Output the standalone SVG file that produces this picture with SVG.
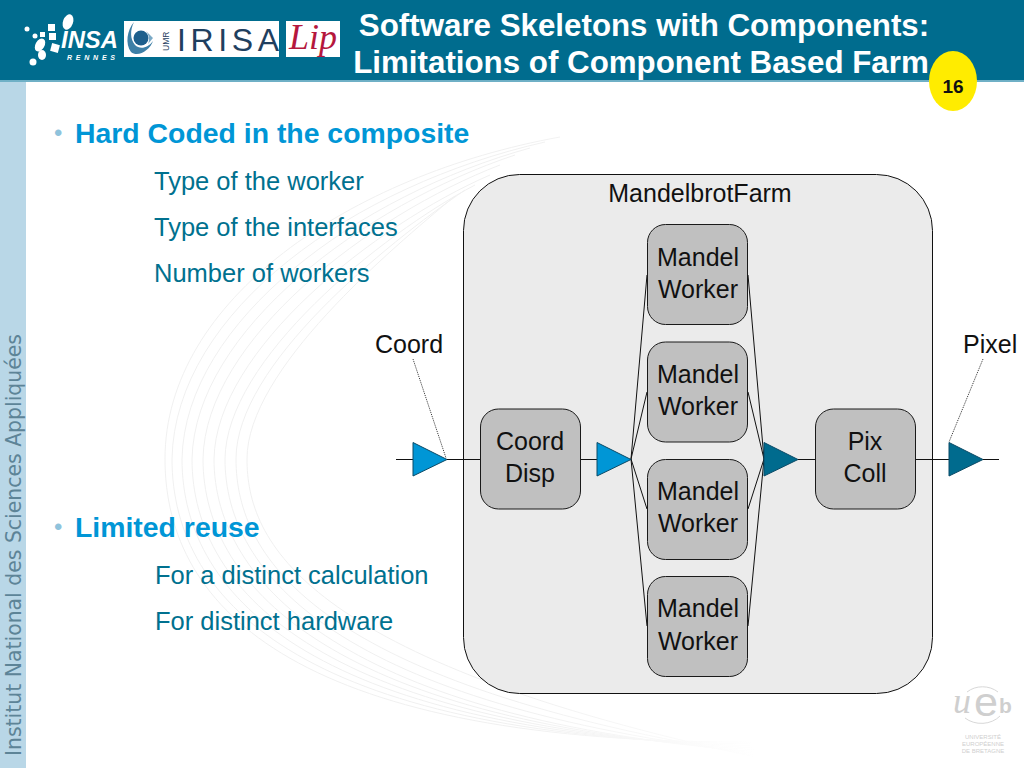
<svg xmlns="http://www.w3.org/2000/svg" width="1024" height="768" viewBox="0 0 1024 768">
<style>
text{font-family:"Liberation Sans",Arial,sans-serif}
.node{fill:#c0c0c0;stroke:#1a1a1a;stroke-width:1}
.nt{font-size:25px;fill:#111;text-anchor:middle}
.title{font-size:31.300px;font-weight:bold;fill:#fff;text-anchor:middle}
.h{font-size:28.400px;font-weight:bold;fill:#0096d6}
.b{font-size:25.500px;fill:#00718f}
.dot{font-size:24px;fill:#8fc3dc}
.lb{font-size:25px;fill:#111}
.c{fill:none;stroke:#111;stroke-width:1}
.lead{fill:none;stroke:#333;stroke-width:1;stroke-dasharray:1 1}
.tl{fill:#0096d6;stroke:#0b4a66;stroke-width:1}
.td{fill:#006b8e;stroke:#0b4a66;stroke-width:1}
.sw{fill:none;stroke:url(#swirl);stroke-width:1}
</style>
<defs>
<linearGradient id="swirl" gradientUnits="userSpaceOnUse" x1="160" y1="0" x2="760" y2="0">
<stop offset="0" stop-color="#f0f0f0"/><stop offset="0.6" stop-color="#f0f0f0"/><stop offset="1" stop-color="#ffffff"/>
</linearGradient>
</defs>
<rect width="1024" height="768" fill="#fff"/>
<g id="background">
<path class="sw" d="M560 137C350 175 165 300 165 459C165 610 300 745 760 742"/>
<path class="sw" d="M545 142C355 185 175 310 172 459C172 605 310 740 760 744"/>
<path class="sw" d="M530 148C360 195 185 320 182 459C182 600 320 735 760 746"/>
<path class="sw" d="M515 155C365 205 195 330 192 459C192 595 330 730 760 748"/>
<path class="sw" d="M500 165C370 215 205 340 203 459C203 590 340 725 760 750"/>
<path class="sw" d="M490 175C375 225 216 350 214 459C214 585 350 720 760 752"/>
<path class="sw" d="M475 185C380 235 226 360 225 459C225 575 340 705 760 754"/>
<path class="sw" d="M465 190C385 245 236 365 236 459C236 560 320 685 760 756"/>
<path class="sw" d="M455 196C390 250 247 370 247 459C247 540 300 660 760 758"/>
</g>
<g id="sidebar">
<rect x="0" y="80" width="26" height="688" fill="#b9d7e7"/>
<text transform="translate(21,756) rotate(-90)" font-size="21" fill="#5d8497" textLength="422" lengthAdjust="spacingAndGlyphs" style="font-family:'DejaVu Sans',sans-serif">Institut National des Sciences Appliquées</text>
</g>
<g id="header">
<rect x="0" y="0" width="1024" height="80" fill="#006c8e"/>
<rect x="0" y="80" width="1024" height="2" fill="#6fb0c6"/>
<g fill="#fff">
<ellipse cx="68" cy="22" rx="5" ry="8" transform="rotate(20 68 22)"/>
<circle cx="27" cy="29" r="2.500"/><circle cx="35" cy="36" r="2.500"/>
<rect x="40" y="32" width="5" height="5"/><rect x="48" y="24" width="7" height="7"/>
<rect x="49" y="33" width="7" height="7"/>
<ellipse cx="40" cy="45" rx="4.500" ry="7" transform="rotate(30 40 45)"/>
<rect x="51" y="44" width="8" height="8" transform="rotate(15 55 48)"/>
<ellipse cx="42" cy="55" rx="4" ry="5"/><circle cx="33" cy="62" r="3.500"/>
</g>
<text x="61" y="48" font-size="23" font-weight="bold" font-style="italic" fill="#fff" textLength="57" lengthAdjust="spacingAndGlyphs">INSA</text>
<text x="67" y="60" font-size="7" font-weight="bold" font-style="italic" fill="#fff" textLength="48">RENNES</text>
<rect x="124" y="21" width="155" height="36" fill="#fff"/>
<path d="M134 22C127 30 125 44 131 52C138 58 150 50 153 41C148 48 140 50 135 45C130 39 130 30 134 22Z" fill="#3d7fa6"/>
<circle cx="141" cy="38" r="7.500" fill="#1d5f8c"/>
<path d="M146 31L153 38L148 44C150 40 149 35 146 31Z" fill="#7aa9c6"/>
<text transform="translate(169,51) rotate(-90)" font-size="8.500" fill="#1f3f5f">UMR</text>
<text x="177" y="51" font-size="32" fill="#1f3f5f" textLength="102" lengthAdjust="spacing">IRISA</text>
<rect x="286" y="21" width="54" height="36" fill="#fff"/>
<text x="289" y="49" font-size="36" font-style="italic" fill="#b5173d" textLength="48" lengthAdjust="spacingAndGlyphs" style="font-family:'Liberation Serif',serif">Lip</text>
<text class="title" x="644" y="36">Software Skeletons with Components:</text>
<text class="title" x="641" y="73">Limitations of Component Based Farm</text>
</g>
<g id="page-number">
<ellipse cx="953" cy="81" rx="24" ry="30" fill="#ffec00"/>
<text x="953" y="93" font-size="19" font-weight="bold" fill="#111" text-anchor="middle">16</text>
</g>
<g id="ueb-logo" fill="#cfcfcf">
<path d="M967 692A24 22 0 0 1 998 692M1000 716A24 20 0 0 1 965 718" fill="none" stroke="#d8d8d8" stroke-width="1"/>
<text x="953" y="713" font-size="36" font-style="italic" style="font-family:'Liberation Serif',serif">u</text>
<text x="974" y="716" font-size="40" style="font-family:'Liberation Sans',sans-serif" textLength="24" lengthAdjust="spacingAndGlyphs">e</text>
<text x="999" y="713" font-size="21" font-weight="bold">b</text>
<g font-size="6" text-anchor="middle"><text x="983" y="739">UNIVERSITÉ</text><text x="983" y="746">EUROPÉENNE</text><text x="983" y="753">DE BRETAGNE</text></g>
</g>
<g id="text-left">
<text class="dot" x="54" y="141">•</text>
<text class="h" x="75" y="143">Hard Coded in the composite</text>
<text class="b" x="154" y="190">Type of the worker</text>
<text class="b" x="154" y="236">Type of the interfaces</text>
<text class="b" x="154" y="282">Number of workers</text>
<text class="dot" x="54" y="535">•</text>
<text class="h" x="75" y="537">Limited reuse</text>
<text class="b" x="155" y="584">For a distinct calculation</text>
<text class="b" x="155" y="630">For distinct hardware</text>
</g>
<g id="MandelbrotFarm">
<rect x="463.500" y="174.500" width="469" height="519" rx="56" ry="56" fill="#ebebeb" stroke="#111" stroke-width="1"/>
<text class="nt" x="700" y="202">MandelbrotFarm</text>
</g>
<g id="connectors">
<path class="c" d="M396 459.500H413M447 459.500H480M581 459.500H597M798 459.500H815M916 459.500H949M983 459.500H999"/>
<path class="c" d="M631 459L647 275M631 459L647 392M631 459L647 509M631 459L647 626"/>
<path class="c" d="M748 275L764 459M748 392L764 459M748 509L764 459M748 626L764 459"/>
<path class="lead" d="M413 359L446 458M983 359L949 442"/>
</g>
<g id="port-coord-in"><path class="tl" d="M413 442.500L447 459.500L413 476Z"/></g>
<g id="port-disp-out"><path class="tl" d="M597 442.500L631 459.500L597 476Z"/></g>
<g id="port-coll-in"><path class="td" d="M764 442.500L798 459.500L764 476Z"/></g>
<g id="port-pixel-out"><path class="td" d="M949 442.500L983 459.500L949 476Z"/></g>
<g id="worker1"><rect class="node" x="647.500" y="224.500" width="100" height="100" rx="18"/><text class="nt" x="698" y="266">Mandel</text><text class="nt" x="698" y="298">Worker</text></g>
<g id="worker2"><rect class="node" x="647.500" y="342" width="100" height="100" rx="18"/><text class="nt" x="698" y="383">Mandel</text><text class="nt" x="698" y="415">Worker</text></g>
<g id="worker3"><rect class="node" x="647.500" y="459.500" width="100" height="100" rx="18"/><text class="nt" x="698" y="500">Mandel</text><text class="nt" x="698" y="532">Worker</text></g>
<g id="worker4"><rect class="node" x="647.500" y="576.500" width="100" height="100" rx="18"/><text class="nt" x="698" y="617">Mandel</text><text class="nt" x="698" y="650">Worker</text></g>
<g id="coord-disp"><rect class="node" x="480.500" y="409" width="100" height="100" rx="18"/><text class="nt" x="530" y="450">Coord</text><text class="nt" x="530" y="482">Disp</text></g>
<g id="pix-coll"><rect class="node" x="815.500" y="409" width="100" height="100" rx="18"/><text class="nt" x="865" y="450">Pix</text><text class="nt" x="865" y="482">Coll</text></g>
<g id="labels">
<text class="lb" x="375" y="353">Coord</text>
<text class="lb" x="963" y="353">Pixel</text>
</g>
</svg>
